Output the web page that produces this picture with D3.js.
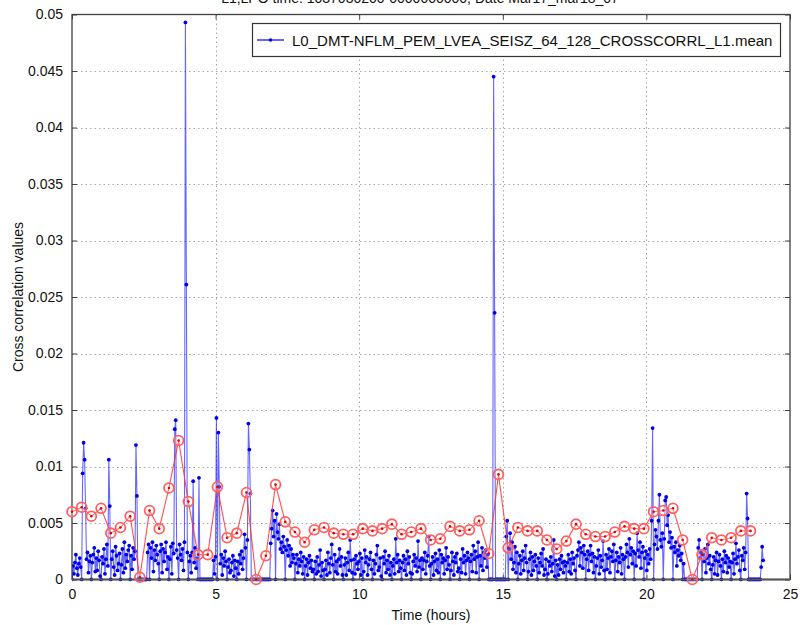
<!DOCTYPE html>
<html>
<head>
<meta charset="utf-8">
<script src="https://cdn.jsdelivr.net/npm/d3@7"></script>
<style>
  html, body { margin: 0; padding: 0; background: #fff; }
  svg { display: block; font-family: "Liberation Sans", Arial, Helvetica, sans-serif; }
</style>
</head>
<body>
<svg id="chart" width="800" height="625"></svg>
<script>
// ---- data -------------------------------------------------------------
const titleText = "L1,LPO time: 1037030200-0000000000, Date Mar17_mar18_07";
const seriesName = "L0_DMT-NFLM_PEM_LVEA_SEISZ_64_128_CROSSCORRL_L1.mean";
const xLabel = "Time (hours)";
const yLabel = "Cross correlation values";
const xTicks = [0, 5, 10, 15, 20, 25];
const yTicks = [0, 0.005, 0.01, 0.015, 0.02, 0.025, 0.03, 0.035, 0.04, 0.045, 0.05];
const yTickLabels = ["0", "0.005", "0.01", "0.015", "0.02", "0.025", "0.03", "0.035", "0.04", "0.045", "0.05"];

// one averaging segment, in hours; each segment holds ten raw samples
const segmentHours = 0.3375;
const samplesPerSegment = 10;

// segment means (one per segment start)
const segmentMean = [
  0.0060, 0.0064, 0.0056, 0.0063, 0.0041, 0.0046, 0.0056, 0.0002, 0.0061, 0.0045,
  0.0081, 0.0123, 0.0069, 0.0022, 0.0022, 0.0082, 0.0037, 0.0041, 0.0077, 0.0000,
  0.0021, 0.0084, 0.0051, 0.0042, 0.0033, 0.0044, 0.0046, 0.0041, 0.0040, 0.0040,
  0.0045, 0.0043, 0.0045, 0.0049, 0.0040, 0.0042, 0.0045, 0.0035, 0.0036, 0.0047,
  0.0043, 0.0044, 0.0052, 0.0023, 0.0093, 0.0028, 0.0046, 0.0043, 0.0043, 0.0035,
  0.0027, 0.0034, 0.0049, 0.0040, 0.0038, 0.0038, 0.0042, 0.0047, 0.0045, 0.0045,
  0.0060, 0.0061, 0.0063, 0.0035, 0.0000, 0.0022, 0.0037, 0.0035, 0.0037, 0.0043,
  0.0043
];

// raw samples per segment, in units of 1e-4
const rawSamples = [
  [0,12,5,15,22,10,4,14,19,11],
  [0,94,121,106,63,18,24,6,16,21],
  [0,15,22,28,7,19,8,25,17,3],
  [0,20,14,27,5,18,31,12,106,65],
  [0,18,25,11,4,29,21,8,14,23],
  [0,13,27,6,33,10,22,16,26,30],
  [0,21,9,28,18,25,119,74,0,0],
  [0,0,0,0,0,0,0,0,24,31],
  [0,28,19,33,7,26,17,30,22,14],
  [0,25,31,6,27,16,24,33,9,20],
  [0,18,29,5,32,23,133,141,26,19],
  [0,31,22,17,27,8,33,493,261,24],
  [0,16,21,6,24,87,15,28,10,19],
  [0,90,0,0,0,0,0,0,0,0],
  [0,0,0,0,0,0,17,5,20,143],
  [0,130,82,14,22,4,19,12,25,16],
  [0,11,18,6,8,15,21,3,17,10],
  [0,16,5,22,14,25,9,19,40,28],
  [0,35,138,115,76,0,0,0,0,0],
  [0,0,0,0,0,0,0,0,0,0],
  [0,0,0,0,0,32,45,61,38,52],
  [0,58,42,36,49,27,33,24,38,29],
  [0,26,35,21,30,12,27,15,22,19],
  [0,14,22,6,18,12,24,16,5,20],
  [0,12,18,4,15,21,10,17,7,9],
  [0,16,5,20,7,13,26,3,15,8],
  [0,9,17,4,24,14,6,19,31,13],
  [0,22,7,16,5,18,27,12,20,4],
  [0,13,19,4,15,24,8,35,17,6],
  [0,18,5,21,14,9,16,23,4,19],
  [0,7,26,15,20,4,13,18,24,9],
  [0,17,5,14,22,30,8,11,19,3],
  [0,20,14,25,6,17,9,21,4,15],
  [0,12,18,5,36,15,22,7,17,10],
  [0,15,21,8,18,4,25,14,20,6],
  [0,5,16,22,12,19,7,34,11,17],
  [0,19,9,17,24,5,16,21,38,12],
  [0,14,20,4,16,23,8,18,6,26],
  [0,22,15,19,5,17,28,9,20,13],
  [0,8,24,16,4,20,15,23,7,10],
  [0,18,6,27,15,21,5,17,24,19],
  [0,16,22,7,30,18,25,6,20,33],
  [0,21,12,28,8,24,19,26,11,22],
  [0,0,0,0,0,445,236,0,0,0],
  [0,0,0,0,0,0,0,0,38,52],
  [0,27,41,18,33,9,15,29,6,24],
  [0,14,21,5,17,25,8,19,30,15],
  [0,7,18,24,4,20,8,16,22,12],
  [0,19,6,15,23,12,27,4,9,18],
  [0,5,16,12,20,7,14,35,3,17],
  [0,13,4,18,9,21,15,6,16,12],
  [0,15,22,7,18,5,24,14,19,8],
  [0,21,26,33,12,28,24,10,30,22],
  [0,18,25,8,22,30,16,23,6,20],
  [0,12,19,26,5,21,11,17,34,8],
  [0,22,9,19,27,6,20,25,16,31],
  [0,17,24,7,20,15,28,5,22,18],
  [0,20,31,24,11,36,22,28,14,25],
  [0,23,12,41,26,20,33,10,24,29],
  [0,19,25,8,22,14,27,18,52,134],
  [0,31,44,38,27,52,75,35,29,41],
  [0,36,70,73,48,57,33,42,28,37],
  [0,29,24,33,12,26,21,30,17,23],
  [0,14,0,0,0,0,0,0,0,0],
  [0,0,0,0,0,0,28,35,19,24],
  [0,22,16,27,6,19,31,14,21,9],
  [0,13,20,5,17,24,4,16,22,12],
  [0,18,7,25,15,21,6,19,11,16],
  [0,15,23,5,18,32,14,20,26,8],
  [0,21,17,28,9,24,76,54,0,0],
  [0,0,0,0,0,0,0,0,0,0],
  [0,11,29,17]
];

// ---- layout -------------------------------------------------------------
const plot = { left: 72, right: 790, top: 14.5, bottom: 579.5 };

const x = d3.scaleLinear().domain([0, 25]).range([plot.left, plot.right]);
const y = d3.scaleLinear().domain([0, 0.05]).range([plot.bottom, plot.top]);

const svg = d3.select("#chart");

// flatten samples into (time, value) pairs
const rawPoints = [];
rawSamples.forEach((seg, s) => {
  seg.forEach((v, j) => {
    rawPoints.push({ t: (s + j / samplesPerSegment) * segmentHours, v: v * 1e-4 });
  });
});
const meanPoints = segmentMean.map((v, i) => ({ t: i * segmentHours, v }));

// ---- grid -------------------------------------------------------------
const grid = svg.append("g").attr("class", "grid")
  .attr("stroke", "#a8a8a8").attr("stroke-width", 1).attr("stroke-dasharray", "1.5,3");
grid.selectAll("line.gx").data(xTicks.slice(1, -1)).join("line")
  .attr("x1", d => Math.round(x(d)) + 0.5).attr("x2", d => Math.round(x(d)) + 0.5)
  .attr("y1", plot.top).attr("y2", plot.bottom);
grid.selectAll("line.gy").data(yTicks.slice(1, -1)).join("line")
  .attr("y1", d => Math.round(y(d)) + 0.5).attr("y2", d => Math.round(y(d)) + 0.5)
  .attr("x1", plot.left).attr("x2", plot.right);

// ---- raw series -------------------------------------------------------------
svg.append("clipPath").attr("id", "plotclip").append("rect")
  .attr("x", plot.left).attr("y", plot.top)
  .attr("width", plot.right - plot.left).attr("height", plot.bottom - plot.top + 2);

const raw = svg.append("g").attr("clip-path", "url(#plotclip)");
raw.append("path")
  .datum(rawPoints)
  .attr("fill", "none")
  .attr("stroke", "#0000ff")
  .attr("stroke-opacity", 0.6)
  .attr("stroke-width", 1.1)
  .attr("d", d3.line().x(d => x(d.t)).y(d => y(d.v)));
raw.selectAll("circle").data(rawPoints).join("circle")
  .attr("cx", d => x(d.t)).attr("cy", d => y(d.v))
  .attr("r", 1.9).attr("fill", "#0000e8");

// ---- axes frame -------------------------------------------------------------
const axisColor = "#404040";
const tickLen = 5;
const axisG = svg.append("g");

const bottomAxis = d3.axisBottom(x).tickValues(xTicks).tickSize(-tickLen).tickPadding(10).tickFormat(d3.format("d"));
const topAxis = d3.axisTop(x).tickValues(xTicks).tickSize(-tickLen).tickFormat("");
const leftAxis = d3.axisLeft(y).tickValues(yTicks).tickSize(-tickLen).tickPadding(9)
  .tickFormat((d, i) => yTickLabels[i]);
const rightAxis = d3.axisRight(y).tickValues(yTicks).tickSize(-tickLen).tickFormat("");

function styleAxis(g) {
  g.select(".domain").remove();
  g.selectAll(".tick line").attr("stroke", axisColor).attr("stroke-width", 1);
  g.selectAll(".tick text").attr("fill", "#111").attr("font-size", 14)
    .attr("font-family", "\"Liberation Sans\", Arial, sans-serif");
}
axisG.append("g").attr("transform", `translate(0,${plot.bottom})`).call(bottomAxis).call(styleAxis);
axisG.append("g").attr("transform", `translate(0,${plot.top})`).call(topAxis).call(styleAxis);
axisG.append("g").attr("transform", `translate(${plot.left},0)`).call(leftAxis).call(styleAxis);
axisG.append("g").attr("transform", `translate(${plot.right},0)`).call(rightAxis).call(styleAxis);

axisG.append("rect")
  .attr("x", plot.left).attr("y", plot.top)
  .attr("width", plot.right - plot.left).attr("height", plot.bottom - plot.top)
  .attr("fill", "none").attr("stroke", axisColor).attr("stroke-width", 1.3);
// baseline at zero reads heavier
axisG.append("line")
  .attr("x1", plot.left).attr("x2", plot.right)
  .attr("y1", y(0)).attr("y2", y(0))
  .attr("stroke", "#555").attr("stroke-width", 2.2);

// ---- segment means -------------------------------------------------------------
const mean = svg.append("g");
mean.append("path")
  .datum(meanPoints)
  .attr("fill", "none")
  .attr("stroke", "#ff3030")
  .attr("stroke-opacity", 0.85)
  .attr("stroke-width", 1.1)
  .attr("d", d3.line().x(d => x(d.t)).y(d => y(d.v)));
mean.selectAll("circle.ring").data(meanPoints).join("circle")
  .attr("class", "ring")
  .attr("cx", d => x(d.t)).attr("cy", d => y(d.v))
  .attr("r", 4.9).attr("fill", "rgba(255,255,255,0.25)")
  .attr("stroke", "#ff6060").attr("stroke-width", 1.8);
mean.selectAll("circle.dot").data(meanPoints).join("circle")
  .attr("class", "dot")
  .attr("cx", d => x(d.t)).attr("cy", d => y(d.v))
  .attr("r", 1.3).attr("fill", "#e00000");

// ---- labels -------------------------------------------------------------
svg.append("text")
  .attr("x", 420).attr("y", 3)
  .attr("text-anchor", "middle").attr("font-size", 14).attr("fill", "#111")
  .text(titleText);

svg.append("text")
  .attr("x", (plot.left + plot.right) / 2).attr("y", 620)
  .attr("text-anchor", "middle").attr("font-size", 14).attr("fill", "#111")
  .text(xLabel);

svg.append("text")
  .attr("transform", `translate(23,${(plot.top + plot.bottom) / 2}) rotate(-90)`)
  .attr("text-anchor", "middle").attr("font-size", 14).attr("fill", "#111")
  .text(yLabel);

// ---- legend -------------------------------------------------------------
const legend = svg.append("g");
legend.append("rect")
  .attr("x", 252.5).attr("y", 23.5).attr("width", 528).attr("height", 33)
  .attr("fill", "#fff").attr("stroke", "#333").attr("stroke-width", 1.2);
legend.append("line")
  .attr("x1", 257).attr("x2", 284).attr("y1", 40).attr("y2", 40)
  .attr("stroke", "#0000ff").attr("stroke-width", 1.2);
legend.append("circle").attr("cx", 270.5).attr("cy", 40).attr("r", 1.8).attr("fill", "#0000ee");
const legText = legend.append("text")
  .attr("x", 292).attr("y", 45.5)
  .attr("font-size", 15).attr("fill", "#111")
  .text(seriesName);
// fit the legend entry to the box width
const wanted = 481;
const got = legText.node().getComputedTextLength();
legText.attr("font-size", 15 * wanted / got);
</script>
</body>
</html>
